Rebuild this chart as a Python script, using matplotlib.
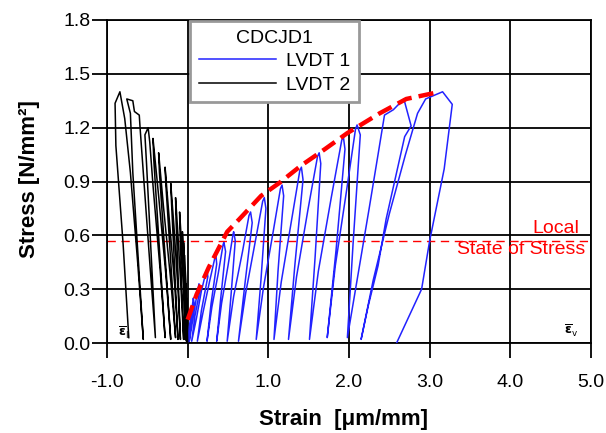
import matplotlib.pyplot as plt
import numpy as np

plt.rcParams['font.family'] = ['Liberation Sans', 'DejaVu Sans']

# LVDT 1 (axial strain), one continuous cyclic path
lvdt1_strain = [0.00, 0.02, 0.05, 0.07, 0.08, 0.04, 0.02,
                0.06, 0.10, 0.14, 0.15, 0.09, 0.05,
                0.11, 0.17, 0.23, 0.24, 0.25, 0.17, 0.12,
                0.19, 0.27, 0.34, 0.35, 0.36, 0.29, 0.24,
                0.30, 0.38, 0.44, 0.45, 0.47, 0.41, 0.36,
                0.42, 0.50, 0.56, 0.57, 0.59, 0.54, 0.49,
                0.57, 0.68, 0.76, 0.78, 0.80, 0.71, 0.63,
                0.72, 0.84, 0.93, 0.95, 0.97, 0.91, 0.85,
                0.94, 1.06, 1.15, 1.17, 1.19, 1.12, 1.07,
                1.16, 1.29, 1.39, 1.41, 1.43, 1.33, 1.25,
                1.35, 1.49, 1.61, 1.63, 1.65, 1.58, 1.51,
                1.62, 1.78, 1.91, 1.93, 1.95, 1.84, 1.73,
                1.83, 1.97, 2.08, 2.10, 2.14, 2.05, 1.98,
                2.10, 2.25, 2.36, 2.44, 2.55, 2.68, 2.77, 2.69, 2.57, 2.46, 2.36, 2.24, 2.15,
                2.30, 2.50, 2.70, 2.85, 2.95, 3.16, 3.28, 3.18, 3.00, 2.90, 2.59]
lvdt1_stress = [0.00, 0.09, 0.18, 0.25, 0.22, 0.10, 0.01,
                0.12, 0.23, 0.33, 0.29, 0.15, 0.01,
                0.14, 0.29, 0.40, 0.41, 0.37, 0.18, 0.01,
                0.17, 0.34, 0.48, 0.49, 0.44, 0.22, 0.01,
                0.20, 0.39, 0.55, 0.56, 0.51, 0.25, 0.01,
                0.22, 0.43, 0.60, 0.62, 0.57, 0.28, 0.01,
                0.26, 0.51, 0.71, 0.73, 0.67, 0.33, 0.01,
                0.28, 0.57, 0.79, 0.81, 0.75, 0.36, 0.02,
                0.31, 0.62, 0.86, 0.88, 0.82, 0.40, 0.02,
                0.34, 0.69, 0.96, 0.98, 0.91, 0.44, 0.02,
                0.37, 0.74, 1.04, 1.06, 1.00, 0.48, 0.02,
                0.40, 0.81, 1.13, 1.15, 1.08, 0.52, 0.03,
                0.43, 0.85, 1.19, 1.215, 1.16, 0.55, 0.03,
                0.35, 0.75, 1.05, 1.27, 1.30, 1.36, 1.21, 1.15, 0.91, 0.69, 0.43, 0.21, 0.02,
                0.35, 0.72, 1.05, 1.28, 1.36, 1.40, 1.33, 0.97, 0.57, 0.30, 0.00]

# LVDT 2 (lateral strain)
lvdt2_strain = [0.00, -0.005, -0.01, -0.008, -0.005,
                -0.01, -0.02, -0.015, -0.01,
                -0.015, -0.025, -0.03, -0.025, -0.015,
                -0.02, -0.035, -0.04, -0.035, -0.02,
                -0.03, -0.045, -0.05, -0.045, -0.025,
                -0.035, -0.055, -0.065, -0.06, -0.03,
                -0.04, -0.075, -0.10, -0.095, -0.05,
                -0.08, -0.12, -0.15, -0.145, -0.09,
                -0.12, -0.17, -0.21, -0.20, -0.12,
                -0.16, -0.23, -0.28, -0.27, -0.15,
                -0.21, -0.30, -0.36, -0.35, -0.21,
                -0.27, -0.36, -0.43, -0.42, -0.28,
                -0.34, -0.43, -0.47, -0.49, -0.53, -0.51, -0.40,
                -0.47, -0.55, -0.59, -0.60, -0.66, -0.68, -0.755, -0.71, -0.68, -0.55,
                -0.62, -0.71, -0.78, -0.84, -0.90, -0.89, -0.80, -0.73]
lvdt2_stress = [0.00, 0.12, 0.25, 0.20, 0.01,
                0.15, 0.33, 0.27, 0.01,
                0.15, 0.32, 0.41, 0.33, 0.01,
                0.18, 0.38, 0.49, 0.40, 0.02,
                0.20, 0.44, 0.56, 0.46, 0.02,
                0.22, 0.48, 0.62, 0.52, 0.02,
                0.25, 0.55, 0.73, 0.62, 0.02,
                0.28, 0.60, 0.81, 0.70, 0.02,
                0.30, 0.65, 0.89, 0.78, 0.02,
                0.32, 0.70, 0.98, 0.88, 0.03,
                0.35, 0.76, 1.06, 0.95, 0.02,
                0.38, 0.82, 1.14, 1.02, 0.03,
                0.40, 0.88, 1.12, 1.20, 1.16, 1.00, 0.03,
                0.45, 0.95, 1.20, 1.27, 1.29, 1.35, 1.36, 1.28, 0.95, 0.02,
                0.45, 0.95, 1.25, 1.40, 1.336, 1.10, 0.55, 0.03]

# envelope (red dashed)
env_strain = [0.00, 0.11, 0.26, 0.49, 0.64, 0.91, 1.13, 1.41, 1.70, 1.98, 2.38, 2.71, 3.13]
env_stress = [0.13, 0.27, 0.42, 0.62, 0.69, 0.82, 0.89, 0.99, 1.08, 1.17, 1.28, 1.36, 1.40]

local_stress = 0.57

fig = plt.figure(figsize=(6.06, 4.33), dpi=100)
ax = fig.add_axes([107/606, 90/433, 484/606, 323/433])

ax.plot(lvdt1_strain, lvdt1_stress, color='#2222ff', lw=1.1, label='LVDT 1', zorder=3)
ax.plot(lvdt2_strain, lvdt2_stress, color='black', lw=1.1, label='LVDT 2', zorder=3)
ax.plot(env_strain, env_stress, color='red', lw=3.2, dashes=(3.4, 1.6), zorder=4)
ax.axhline(local_stress, color='red', lw=1.0, dashes=(6, 4), zorder=2)

ax.text(4.85, 0.64, 'Local', color='red', fontsize=14, ha='right', va='center')
ax.text(4.93, 0.52, 'State of Stress', color='red', fontsize=14, ha='right', va='center')
ax.text(-0.80, 0.055, r'$\overline{\mathbf{\varepsilon}}_\mathrm{l}$', fontsize=9,
        ha='center', va='center')
ax.text(4.75, 0.065, r'$\overline{\mathbf{\varepsilon}}_\mathrm{v}$', fontsize=9,
        ha='center', va='center')

ax.set_xlim(-1, 5)
ax.set_ylim(0, 1.8)
ax.set_xticks(np.arange(-1, 5.1, 1.0))
ax.set_yticks(np.arange(0, 1.81, 0.3))
ax.set_xticklabels(['%.1f' % v for v in np.arange(-1, 5.1, 1.0)])
ax.set_yticklabels(['%.1f' % v for v in np.arange(0, 1.81, 0.3)])
ax.tick_params(direction='out', length=11, width=1.3, labelsize=14, color='black')
ax.tick_params(axis='x', pad=11)
ax.tick_params(axis='y', pad=1)
ax.grid(True, color='black', lw=1.3)
for s in ax.spines.values():
    s.set_linewidth(1.3)

ax.set_xlabel('Strain  [μm/mm]', fontsize=16, fontweight='bold')
ax.set_ylabel('Stress [N/mm²]', fontsize=16, fontweight='bold')
ax.xaxis.set_label_coords(0.488, -0.205)
ax.yaxis.set_label_coords(-0.138, 0.508)

leg = ax.legend(title='CDCJD1', loc='upper left', bbox_to_anchor=(0.171, 0.997),
                borderaxespad=0, fontsize=14, title_fontsize=14, handlelength=4.0,
                frameon=True, fancybox=False, borderpad=0.45, labelspacing=0.3,
                handletextpad=0.5)
leg.get_frame().set_edgecolor('#999999')
leg.get_frame().set_linewidth(2)
leg.get_frame().set_alpha(1)
leg.set_zorder(5)

fig.savefig('out.png', dpi=100)
